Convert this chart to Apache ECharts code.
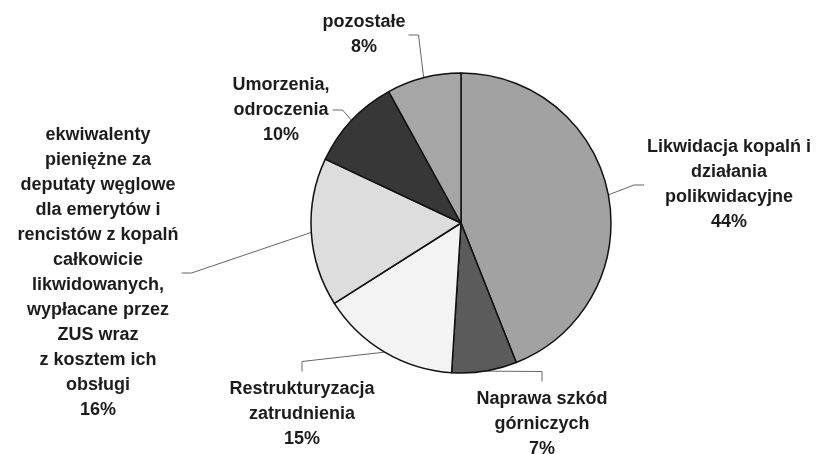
<!DOCTYPE html>
<html lang="pl">
<head>
  <meta charset="UTF-8">
  <title>Struktura wydatków</title>
  <style>
    html, body { margin: 0; padding: 0; background: #fff; }
  </style>
</head>
<body>
  <div id="main" style="width: 821px; height: 454px;"></div>
  <script src="https://cdn.jsdelivr.net/npm/echarts@6/dist/echarts.min.js"></script>
  <script>
    // dane (udział w %)
    var categories = [
      'Likwidacja kopalń i\ndziałania\npolikwidacyjne',
      'Naprawa szkód\ngórniczych',
      'Restrukturyzacja\nzatrudnienia',
      'ekwiwalenty\npieniężne za\ndeputaty węglowe\ndla emerytów i\nrencistów z kopalń\ncałkowicie\nlikwidowanych,\nwypłacane przez\nZUS wraz\nz kosztem ich\nobsługi',
      'Umorzenia,\nodroczenia',
      'pozostałe'
    ];
    var shares = [44, 7, 15, 16, 10, 8];

    var sliceColors = ['#a2a2a2', '#5b5b5b', '#f3f3f3', '#dddddd', '#373737', '#a6a6a6'];
    // środek każdej etykiety (px)
    var labelAnchors = [[729, 185], [542, 424], [302, 414], [98, 273], [281, 110], [364, 35]];

    var myChart = echarts.init(document.getElementById('main'));

    var pieData = categories.map(function (name, i) {
      return {
        name: name,
        value: shares[i],
        itemStyle: { color: sliceColors[i] }
      };
    });

    var option = {
      backgroundColor: '#ffffff',
      animation: false,
      series: [{
        type: 'pie',
        center: [461, 223],
        radius: 150,
        startAngle: 90,
        clockwise: true,
        avoidLabelOverlap: false,
        data: pieData,
        itemStyle: {
          borderColor: '#111',
          borderWidth: 1.5
        },
        label: {
          show: true,
          position: 'outer',
          formatter: function (p) {
            return p.name + '\n' + p.value + '%';
          },
          fontFamily: '"Liberation Sans", Arial, sans-serif',
          fontWeight: 'bold',
          fontSize: 18,
          lineHeight: 25,
          color: '#1c1c1c',
          align: 'center'
        },
        labelLine: {
          show: true,
          length: 10,
          length2: 10,
          lineStyle: { color: '#666', width: 1 }
        },
        labelLayout: function (params) {
          var a = labelAnchors[params.dataIndex];
          var w = params.labelRect.width;
          var h = params.labelRect.height;
          var start = params.labelLinePoints ? params.labelLinePoints[0] : [a[0], a[1]];
          var top = a[1] - h / 2;
          var mid, end;
          if (top > start[1]) {
            // etykieta pod wykresem
            end = [a[0], top - 5];
            mid = [a[0], top - 15];
          } else if (a[0] < start[0]) {
            end = [a[0] + w / 2 + 3, a[1]];
            mid = [end[0] + 10, a[1]];
          } else {
            end = [a[0] - w / 2 - 3, a[1]];
            mid = [end[0] - 10, a[1]];
          }
          return {
            x: a[0],
            y: a[1],
            align: 'center',
            verticalAlign: 'middle',
            labelLinePoints: [start, mid, end]
          };
        }
      }]
    };

    myChart.setOption(option);
  </script>
</body>
</html>
